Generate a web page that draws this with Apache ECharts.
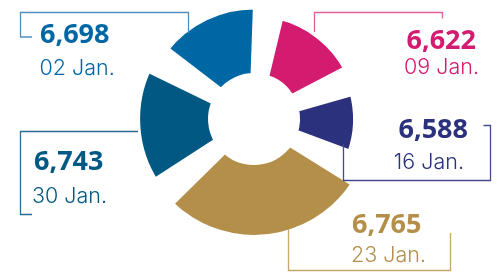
<!DOCTYPE html>
<html>
<head>
<meta charset="utf-8">
<script src="https://cdn.jsdelivr.net/npm/echarts@6/dist/echarts.min.js"></script>
<style>
  html, body { margin: 0; padding: 0; background: #ffffff; }
  #chart { width: 499px; height: 272px; }
</style>
</head>
<body>
<div id="chart"></div>
<script>
// values, clockwise from the top
var dates = ['09 Jan.', '16 Jan.', '23 Jan.', '30 Jan.', '02 Jan.'];
var visitors = [6622, 6588, 6765, 6743, 6698];
// share of the circle each slice gets (the original does not tie it to the value)
var shares = [60.5, 48, 115, 70.5, 66];

var colors = ['#d31b6f', '#2b317c', '#b38f4a', '#005883', '#0067a5'];
var lineColors = ['#e0609b', '#454a8c', '#c6a66c', '#2a6b93', '#4f8fc2'];

var chart = echarts.init(document.getElementById('chart'));

// outer radius grows with the value
var minV = Math.min.apply(null, visitors);
var maxV = Math.max.apply(null, visitors);
function radiusOf(v) {
  return 99 + (v - minV) / (maxV - minV) * 17;
}

var edge = 5; // white border, keeps the gaps a bit wide near the hole

// one pie per slice, so each one can have its own radius
var series = visitors.map(function (v, i) {
  return {
    type: 'pie',
    silent: true,
    animation: false,
    z: 1,
    center: [254, 119],
    radius: [46 - edge, radiusOf(v) + edge],
    startAngle: 82.25,
    padAngle: 11.5,
    label: { show: false },
    labelLine: { show: false },
    data: shares.map(function (s, j) {
      return {
        name: dates[j],
        value: s,
        itemStyle: j === i
          ? { color: colors[j], borderColor: '#ffffff', borderWidth: edge * 2 }
          : { color: 'rgba(0,0,0,0)', borderWidth: 0 }
      };
    })
  };
});

// where each label and its bracket sit
var labelPos = [
  { align: 'right', num: [476, 41], day: [479, 67.5], pts: [[314.5, 32], [314.5, 12.5], [442.5, 12.5], [442.5, 18.5]] },
  { align: 'right', num: [468, 130.5], day: [464, 163], pts: [[343.5, 144], [343.5, 180.5], [490.5, 180.5], [490.5, 125.5], [483.5, 125.5]] },
  { align: 'left', num: [352, 225], day: [351, 255.7], pts: [[288.5, 229], [288.5, 270.5], [450.5, 270.5], [450.5, 233]] },
  { align: 'left', num: [34, 162], day: [32, 196.5], pts: [[138, 131.5], [20.5, 131.5], [20.5, 214.5], [32, 214.5]] },
  { align: 'left', num: [40, 35], day: [39.5, 68.3], pts: [[188.5, 33], [188.5, 12.5], [20.5, 12.5], [20.5, 37], [32, 37]] }
];

var graphics = [];
labelPos.forEach(function (p, i) {
  graphics.push({
    type: 'polyline',
    silent: true,
    z: 100,
    shape: { points: p.pts },
    style: { stroke: lineColors[i], lineWidth: 1.3, fill: null }
  });
  graphics.push({
    type: 'text',
    silent: true,
    z: 100,
    style: {
      x: p.num[0], y: p.num[1],
      text: echarts.format.addCommas(visitors[i]),
      fill: colors[i],
      fontFamily: '"Open Sans"', fontWeight: 'bold', fontSize: 27,
      align: p.align, verticalAlign: 'middle'
    }
  });
  graphics.push({
    type: 'text',
    silent: true,
    z: 100,
    style: {
      x: p.day[0], y: p.day[1],
      text: dates[i],
      fill: colors[i],
      fontFamily: 'Inter', fontWeight: 300, fontSize: 21.5,
      align: p.align, verticalAlign: 'middle'
    }
  });
});

chart.setOption({
  backgroundColor: '#ffffff',
  series: series,
  graphic: graphics
});
</script>
</body>
</html>
